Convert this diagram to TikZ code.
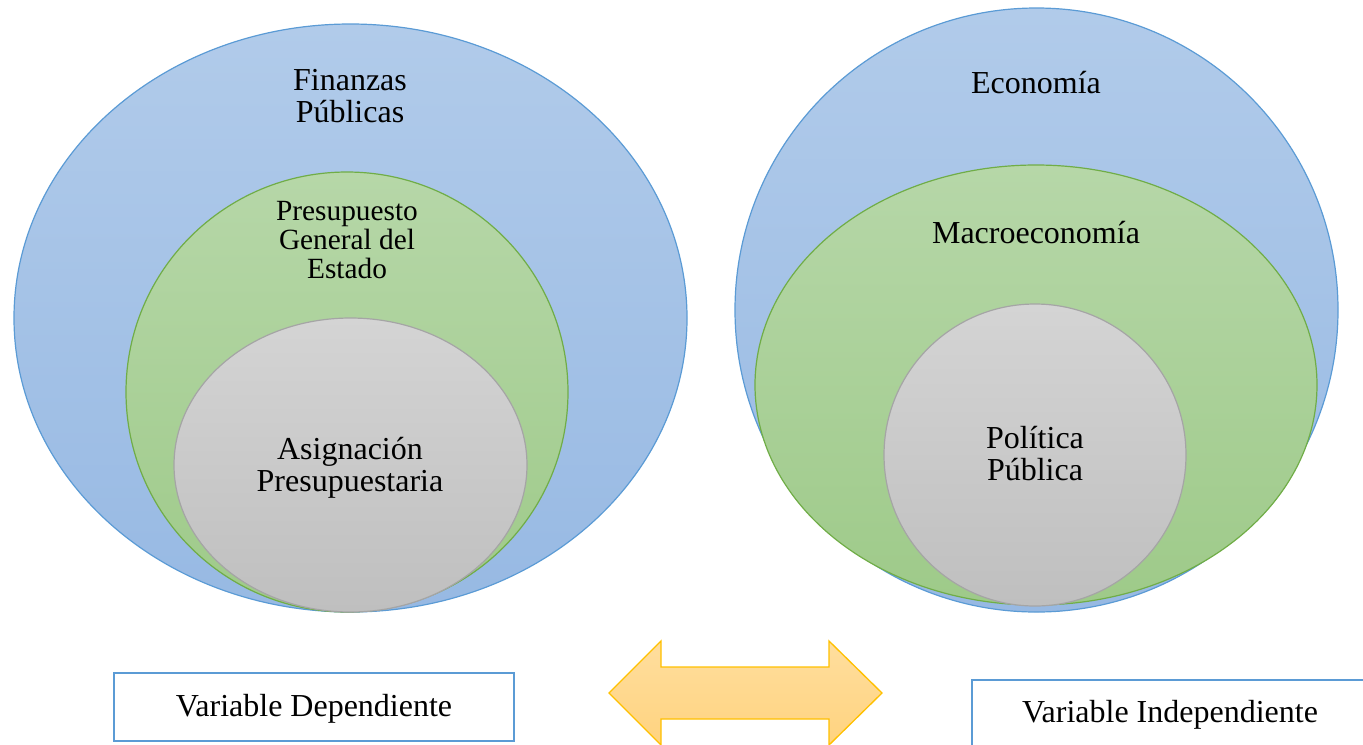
\documentclass[tikz,border=0pt]{standalone}
\usepackage{fontspec}
\setmainfont{Liberation Serif}
\usepackage{tikz}
\usetikzlibrary{positioning}

\definecolor{bluetop}{HTML}{B1CBEA}
\definecolor{bluebot}{HTML}{97B9E3}
\definecolor{blueline}{HTML}{5B9BD5}
\definecolor{greentop}{HTML}{B6D7A8}
\definecolor{greenbot}{HTML}{9ECA89}
\definecolor{greenline}{HTML}{70AD47}
\definecolor{graytop}{HTML}{D4D4D4}
\definecolor{graybot}{HTML}{BFBFBF}
\definecolor{grayline}{HTML}{A5A5A5}
\definecolor{arrowtop}{HTML}{FFDE9E}
\definecolor{arrowbot}{HTML}{FFD37F}
\definecolor{arrowline}{HTML}{FFC000}

\begin{document}
\begin{tikzpicture}%
        [x=0.75pt, y=-0.75pt,
        outer/.style={top color=bluetop, bottom color=bluebot, draw=blueline, line width=0.9pt},
        middle/.style={top color=greentop, bottom color=greenbot, draw=greenline, line width=0.9pt},
        inner/.style={top color=graytop, bottom color=graybot, draw=grayline, line width=0.9pt},
        label/.style={align=center, inner sep=0pt, font=\fontsize{24}{24}\selectfont},
        small label/.style={label, font=\fontsize{22}{22}\selectfont},
        varbox/.style={draw=blueline, line width=2.2pt, fill=white}]

    \useasboundingbox (0,0) rectangle (1363,744);
    \clip (0,0) rectangle (1363,744);

    %% Drawing the left group
    \draw[outer]  (350.5,318) ellipse [x radius=336.5, y radius=294];
    \draw[middle] (347,392)   ellipse [x radius=221,   y radius=220];
    \draw[inner]  (350.5,465) ellipse [x radius=176.5, y radius=147];
    \node[label]       (finanzas)    at (350,96)  {Finanzas\\Públicas};
    \node[small label] (presupuesto) at (347,240) {Presupuesto\\General del\\Estado};
    \node[label]       (asignacion)  at (350,468) {Asignación\\Presupuestaria};
    %%
    %% Drawing the right group
    \draw[outer]  (1036.5,310) ellipse [x radius=301.5, y radius=302];
    \draw[middle] (1036,385)   ellipse [x radius=281,   y radius=220];
    \draw[inner]  (1035,455)   ellipse [x radius=151,   y radius=151];
    \node[label] (economia) at (1036,83)  {Economía};
    \node[label] (macro)    at (1036,233) {Macroeconomía};
    \node[label] (politica) at (1035,454) {Política\\Pública};
    %%
    %% Drawing the variables and the double arrow
    \draw[varbox] (114,673) rectangle (514,741);
    \draw[varbox] (972,680) rectangle (1375,760);
    \node[label] (dependiente)   at (314,709)  {Variable Dependiente};
    \node[label] (independiente) at (1170,715) {Variable Independiente};
    \draw[top color=arrowtop, bottom color=arrowbot, draw=arrowline, line width=1pt]
        (609,693) -- (661,641) -- (661,667) -- (829,667) -- (829,641) -- (882,693)
        -- (829,745) -- (829,719) -- (661,719) -- (661,745) -- cycle;
    %%
\end{tikzpicture}
\end{document}
